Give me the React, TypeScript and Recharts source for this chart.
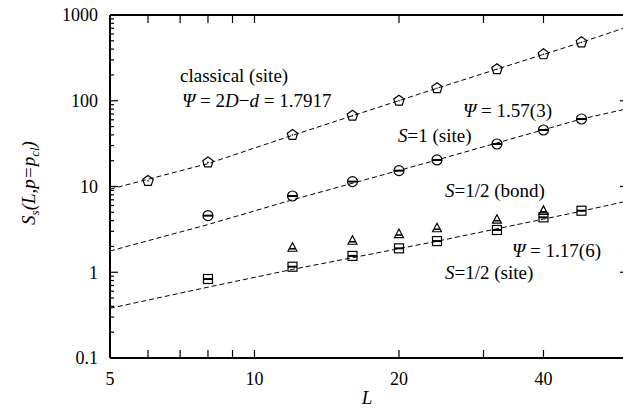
import React from "react";
import { ComposedChart, Scatter, XAxis, YAxis, ReferenceLine } from "recharts";

const FONT = "'Liberation Serif', 'DejaVu Serif', serif";

// cluster size S_s at p = p_cl
const L_classical = [6, 8, 12, 16, 20, 24, 32, 40, 48];
const S_classical = [11.6, 19.1, 39.9, 67, 100, 140, 233, 348, 480];

const L_spin1 = [8, 12, 16, 20, 24, 32, 40, 48];
const S_spin1 = [4.57, 7.75, 11.4, 15.3, 20.4, 31.3, 45.6, 61.3];

const L_halfBond = [12, 16, 20, 24, 32, 40];
const S_halfBond = [1.93, 2.33, 2.79, 3.26, 4.1, 5.2];

const L_halfSite = [8, 12, 16, 20, 24, 32, 40, 48];
const S_halfSite = [0.834, 1.16, 1.55, 1.9, 2.31, 3.11, 4.37, 5.22];

// dashed fit curves
const L_fit = [5, 8, 12, 24, 48, 60];
const S_fitClassical = [9.3, 18.5, 39.5, 140, 480, 730];
const S_fitSpin1 = [1.77, 3.6, 7.0, 20.4, 61.3, 81];
const S_fitHalf = [0.38, 0.67, 1.08, 2.3, 5.15, 6.8];

const xMajor = [5, 10, 20, 40];
const xMinor = [6, 7, 8, 9, 30];
const yMajor = [0.1, 1, 10, 100, 1000];
const yMinor = [
  0.2, 0.3, 0.4, 0.5, 0.6, 0.7, 0.8, 0.9,
  2, 3, 4, 5, 6, 7, 8, 9,
  20, 30, 40, 50, 60, 70, 80, 90,
  200, 300, 400, 500, 600, 700, 800, 900,
];

const toPoints = (xs: number[], ys: number[]) => xs.map((L, i) => ({ L, S: ys[i] }));

const LEFT = 110;
const RIGHT = 628;
const TOP = 15;
const BOTTOM = 358;

const txt = { fontFamily: FONT, fontSize: 18 };

const XTick = (props: any) => {
  const { x, payload } = props;
  const v = payload.value;
  return (
    <g>
      <line x1={x} x2={x} y1={BOTTOM} y2={BOTTOM - 8} stroke="#000" strokeWidth={1.2} />
      <line x1={x} x2={x} y1={TOP} y2={TOP + 8} stroke="#000" strokeWidth={1.2} />
      {xMajor.includes(v) && (
        <text x={x} y={385} textAnchor="middle" style={txt} fill="#000">
          {v}
        </text>
      )}
    </g>
  );
};

const YTick = (props: any) => {
  const { y, payload } = props;
  const v = payload.value;
  const major = yMajor.includes(v);
  const len = major ? 8 : 4;
  return (
    <g>
      <line x1={LEFT} x2={LEFT + len} y1={y} y2={y} stroke="#000" strokeWidth={1.2} />
      <line x1={RIGHT} x2={RIGHT - len} y1={y} y2={y} stroke="#000" strokeWidth={1.2} />
      {major && (
        <text x={98} y={y} dy="0.35em" textAnchor="end" style={txt} fill="#000">
          {v}
        </text>
      )}
    </g>
  );
};

const Pentagon = ({ cx, cy }: any) => {
  const r = 5.5;
  const pts = [0, 1, 2, 3, 4]
    .map((k) => {
      const a = ((-90 + 72 * k) * Math.PI) / 180;
      return `${cx + r * Math.cos(a)},${cy + r * Math.sin(a)}`;
    })
    .join(" ");
  return (
    <g>
      <polygon points={pts} fill="none" stroke="#000" strokeWidth={1.2} />
      <circle cx={cx} cy={cy} r={0.8} fill="#000" />
    </g>
  );
};

const BarCircle = ({ cx, cy }: any) => (
  <g>
    <circle cx={cx} cy={cy} r={5} fill="none" stroke="#000" strokeWidth={1.2} />
    <line x1={cx - 5} x2={cx + 5} y1={cy} y2={cy} stroke="#000" strokeWidth={2} />
  </g>
);

const BarSquare = ({ cx, cy }: any) => (
  <g>
    <rect x={cx - 4.5} y={cy - 4.5} width={9} height={9} fill="none" stroke="#000" strokeWidth={1.2} />
    <line x1={cx - 4.5} x2={cx + 4.5} y1={cy} y2={cy} stroke="#000" strokeWidth={2} />
  </g>
);

const BarTriangle = ({ cx, cy }: any) => (
  <g>
    <polygon
      points={`${cx},${cy - 5} ${cx - 4.5},${cy + 3.5} ${cx + 4.5},${cy + 3.5}`}
      fill="none"
      stroke="#000"
      strokeWidth={1.2}
    />
    <line x1={cx - 3} x2={cx + 3} y1={cy + 1} y2={cy + 1} stroke="#000" strokeWidth={1.6} />
  </g>
);

const noDot = () => <g />;
const dashed = { stroke: "#000", strokeWidth: 1, strokeDasharray: "5 3" };

const it = { fontStyle: "italic" } as const;

export default function App() {
  return (
    <div style={{ position: "absolute", left: 0, top: 0, width: 623, height: 410, overflow: "hidden", background: "#fff" }}>
      <ComposedChart width={644} height={410} margin={{ top: TOP, right: 644 - RIGHT, bottom: 0, left: 0 }}>
        <XAxis
          dataKey="L"
          type="number"
          scale="log"
          domain={[5, 60]}
          allowDataOverflow
          ticks={[...xMajor, ...xMinor].sort((a, b) => a - b)}
          interval={0}
          tick={XTick}
          tickLine={false}
          axisLine={{ stroke: "#000", strokeWidth: 2 }}
          height={410 - BOTTOM}
        />
        <YAxis
          dataKey="S"
          type="number"
          scale="log"
          domain={[0.1, 1000]}
          allowDataOverflow
          ticks={[...yMajor, ...yMinor].sort((a, b) => a - b)}
          interval={0}
          tick={YTick}
          tickLine={false}
          axisLine={{ stroke: "#000", strokeWidth: 2 }}
          width={LEFT}
        />
        <ReferenceLine y={1000} stroke="#000" strokeWidth={2} />
        <ReferenceLine x={60} stroke="#000" strokeWidth={2} />

        <Scatter data={toPoints(L_fit, S_fitClassical)} line={dashed} shape={noDot} isAnimationActive={false} />
        <Scatter data={toPoints(L_fit, S_fitSpin1)} line={dashed} shape={noDot} isAnimationActive={false} />
        <Scatter data={toPoints(L_fit, S_fitHalf)} line={dashed} shape={noDot} isAnimationActive={false} />

        <Scatter data={toPoints(L_classical, S_classical)} shape={Pentagon} isAnimationActive={false} />
        <Scatter data={toPoints(L_spin1, S_spin1)} shape={BarCircle} isAnimationActive={false} />
        <Scatter data={toPoints(L_halfBond, S_halfBond)} shape={BarTriangle} isAnimationActive={false} />
        <Scatter data={toPoints(L_halfSite, S_halfSite)} shape={BarSquare} isAnimationActive={false} />
      </ComposedChart>

      <svg
        width={623}
        height={410}
        style={{ position: "absolute", left: 0, top: 0, pointerEvents: "none", fontFamily: FONT, fontSize: 19 }}
        fill="#000"
      >
        <text x={180} y={82}>classical (site)</text>
        <text x={182} y={107}>
          <tspan style={it}>Ψ</tspan> = 2<tspan style={it}>D</tspan>−<tspan style={it}>d</tspan> = 1.7917
        </text>
        <text x={463} y={117}>
          <tspan style={it}>Ψ</tspan> = 1.57(3)
        </text>
        <text x={398} y={142}>
          <tspan style={it}>S</tspan>=1 (site)
        </text>
        <text x={445} y={197}>
          <tspan style={it}>S</tspan>=1/2 (bond)
        </text>
        <text x={512} y={257}>
          <tspan style={it}>Ψ</tspan> = 1.17(6)
        </text>
        <text x={445} y={279}>
          <tspan style={it}>S</tspan>=1/2 (site)
        </text>

        <text x={367} y={404} textAnchor="middle" style={it}>L</text>
        <text transform="translate(35,183) rotate(-90)" textAnchor="middle" style={it}>
          S<tspan fontSize={13} dy={4}>s</tspan>
          <tspan dy={-4}>(L,p=p</tspan>
          <tspan fontSize={13} dy={4}>cl</tspan>
          <tspan dy={-4}>)</tspan>
        </text>
      </svg>
    </div>
  );
}
